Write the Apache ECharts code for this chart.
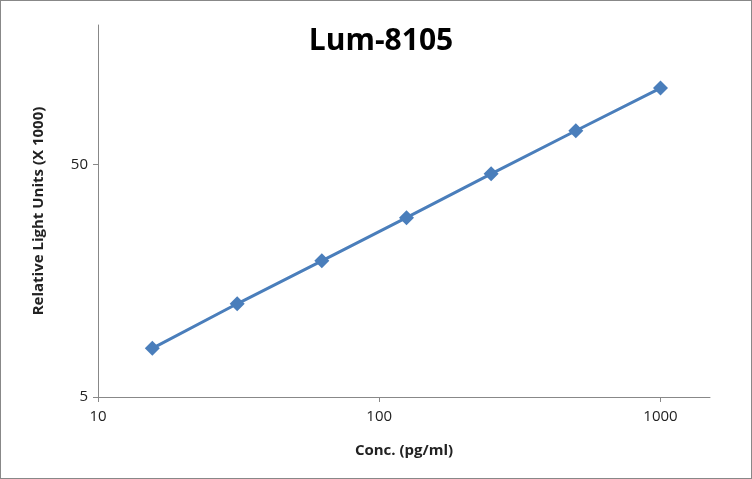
<!DOCTYPE html>
<html>
<head>
<meta charset="utf-8">
<script src="https://cdn.jsdelivr.net/npm/echarts@6/dist/echarts.min.js"></script>
<style>
  html, body { margin: 0; padding: 0; background: #fff; }
  #chart { width: 750px; height: 477px; border: 1px solid #888; }
</style>
</head>
<body>
<div id="chart"></div>
<script>
var concentrations = [15.6, 31.25, 62.5, 125, 250, 500, 1000]
var rlu = [8.1, 12.6, 19.3, 29.6, 45.7, 70.1, 107]

var myChart = echarts.init(document.getElementById('chart'))

var axisFont = { fontFamily: 'Open Sans, Calibri, sans-serif', fontSize: 15, color: '#222' }

var option = {
  animation: false,
  title: {
    text: 'Lum-8105',
    left: 375,
    top: 20,
    textAlign: 'center',
    textStyle: { fontFamily: 'Open Sans, sans-serif', fontSize: 30, fontWeight: 'bold', color: '#000' }
  },
  grid: { left: 97, right: 41, top: 24, bottom: 81, containLabel: false, outerBoundsMode: 'none' },
  xAxis: {
    type: 'log',
    logBase: 10,
    min: 10,
    max: 1500,
    interval: 1,
    name: 'Conc. (pg/ml)',
    nameLocation: 'middle',
    nameGap: 46,
    nameTextStyle: Object.assign({}, axisFont, { fontWeight: 'bold' }),
    axisLine: { lineStyle: { color: '#888' } },
    axisTick: { lineStyle: { color: '#888' }, length: 5 },
    axisLabel: Object.assign({}, axisFont, {
      margin: 12,
      showMaxLabel: false,
      formatter: function (v) { return String(Math.round(v)) }
    }),
    splitLine: { show: false }
  },
  yAxis: {
    type: 'log',
    logBase: 10,
    min: 5,
    max: 200,
    interval: 1,
    name: 'Relative Light Units (X 1000)',
    nameLocation: 'middle',
    nameGap: 52,
    nameTextStyle: Object.assign({}, axisFont, { fontWeight: 'bold' }),
    axisLine: { show: true, lineStyle: { color: '#888' } },
    axisTick: { show: true, lineStyle: { color: '#888' }, length: 5 },
    axisLabel: Object.assign({}, axisFont, {
      margin: 10,
      showMaxLabel: false,
      formatter: function (v) { return String(Math.round(v)) }
    }),
    splitLine: { show: false }
  },
  series: [{
    type: 'line',
    data: concentrations.map(function (c, i) { return [c, rlu[i]] }),
    symbol: 'diamond',
    symbolSize: 15,
    lineStyle: { color: '#4a7ebb', width: 3 },
    itemStyle: { color: '#4a7ebb' }
  }]
}

myChart.setOption(option)
</script>
</body>
</html>
